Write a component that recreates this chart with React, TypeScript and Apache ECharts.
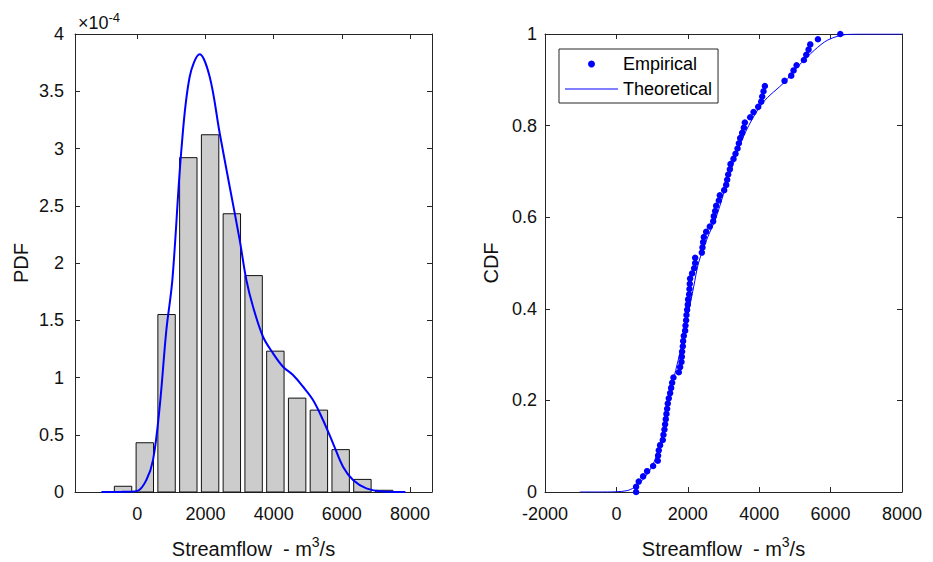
import React, { useEffect, useRef } from 'react';
import * as echarts from 'echarts';

// ---- Data (PDF values in units of 1e-4) ----
const binCenters = [-420, 218, 857, 1495, 2134, 2772, 3411, 4049, 4688, 5326, 5965, 6603, 7242];
const binHeights = [0.05, 0.43, 1.55, 2.92, 3.12, 2.43, 1.89, 1.23, 0.82, 0.715, 0.37, 0.11, 0.015];
const binSpacing = 638.5;
const barFraction = 0.8;

const pdfX = [-1055, -500, 0, 264, 460, 655, 851, 1027, 1291, 1535, 1829, 2122, 2416, 2709, 3003, 3198, 3394, 3687, 3981, 4274, 4567, 4860, 5154, 5447, 5741, 6034, 6328, 6719, 7208, 7864];
const pdfY = [0, 0.001, 0.01, 0.105, 0.28, 0.745, 1.415, 1.852, 2.987, 3.627, 3.823, 3.627, 3.133, 2.666, 2.2, 1.852, 1.618, 1.356, 1.211, 1.094, 1.022, 0.92, 0.803, 0.629, 0.425, 0.221, 0.105, 0.032, 0.005, 0];

const empiricalX = [
  551, 551, 626, 748, 860, 1028, 1159, 1168, 1187, 1224, 1299, 1318, 1346, 1364, 1383, 1402, 1421, 1439, 1467, 1505,
  1533, 1561, 1598, 1748, 1785, 1822, 1832, 1841, 1860, 1869, 1888, 1925, 1935, 1953, 1963, 1981, 2000, 2009, 2037, 2047,
  2056, 2065, 2121, 2178, 2206, 2206, 2393, 2411, 2430, 2449, 2514, 2617, 2710, 2729, 2766, 2794, 2869, 2897, 3019, 3075,
  3103, 3131, 3178, 3196, 3280, 3336, 3393, 3430, 3467, 3523, 3570, 3598, 3748, 3841, 3972, 4056, 4084, 4121, 4159, 4710,
  4897, 4963, 5047, 5252, 5318, 5383, 5430, 5645, 6271,
];

const cdfX = [-1028, -500, 0, 300, 500, 740, 1000, 1206, 1393, 1598, 1860, 2000, 2170, 2300, 2550, 2794, 3200, 3598, 4100, 4710, 5084, 5551, 5925, 6440, 7000, 8000];
const cdfY = [0, 0, 0.0005, 0.003, 0.01, 0.027, 0.056, 0.1, 0.172, 0.245, 0.33, 0.385, 0.45, 0.5, 0.555, 0.6, 0.7, 0.783, 0.85, 0.895, 0.929, 0.965, 0.987, 0.999, 1, 1];

const pdfXLimits = [-1830, 8645];
const pdfYTicks = { min: 0, max: 4, interval: 0.5 };
const cdfXTicks = { min: -2000, max: 8000, interval: 2000 };
const cdfYTicks = { min: 0, max: 1, interval: 0.2 };

const xTitle = 'Streamflow  - m{sup|3}/s';
const pdfTitle = 'PDF';
const cdfTitle = 'CDF';
const exponentLabel = '×10{sup|-4}';
const legendNames = ['Empirical', 'Theoretical'];

const FONT = '"Liberation Sans", Arial, Helvetica, sans-serif';
const AX = '#262626';
const TXT = '#111';

export default function App() {
  const ref = useRef<HTMLDivElement>(null);
  useEffect(() => {
    if (!ref.current) return;
    const chart = echarts.init(ref.current, undefined, { renderer: 'svg' });

    const axisBase = (extra: any) => ({
      type: 'value',
      axisLine: { show: true, onZero: false, lineStyle: { color: AX, width: 1 } },
      axisTick: { show: true, inside: true, length: 5, lineStyle: { color: AX } },
      splitLine: { show: false },
      ...extra,
    });
    const labelStyle = { color: TXT, fontSize: 18, fontFamily: FONT };
    const fmt = (v: number) => String(Math.round(v * 1000) / 1000);

    const halfW = (binSpacing * barFraction) / 2;

    const option: any = {
      animation: false,
      grid: [
        { left: 75, top: 34, width: 357, height: 458 },
        { left: 545, top: 34, width: 357, height: 458 },
      ],
      xAxis: [
        axisBase({ gridIndex: 0, position: 'bottom', min: pdfXLimits[0], max: pdfXLimits[1], splitNumber: 5,
          axisLabel: { ...labelStyle, margin: 13, formatter: fmt, showMinLabel: false, showMaxLabel: false } }),
        axisBase({ gridIndex: 0, position: 'top', min: pdfXLimits[0], max: pdfXLimits[1], splitNumber: 5,
          axisLabel: { show: false } }),
        axisBase({ gridIndex: 1, position: 'bottom', ...cdfXTicks,
          axisLabel: { ...labelStyle, margin: 13, formatter: fmt } }),
        axisBase({ gridIndex: 1, position: 'top', ...cdfXTicks, axisLabel: { show: false } }),
      ],
      yAxis: [
        axisBase({ gridIndex: 0, position: 'left', ...pdfYTicks, axisLabel: { ...labelStyle, margin: 11, formatter: fmt } }),
        axisBase({ gridIndex: 0, position: 'right', ...pdfYTicks, axisLabel: { show: false } }),
        axisBase({ gridIndex: 1, position: 'left', ...cdfYTicks, axisLabel: { ...labelStyle, margin: 8, formatter: fmt } }),
        axisBase({ gridIndex: 1, position: 'right', ...cdfYTicks, axisLabel: { show: false } }),
      ],
      legend: {
        left: 559, top: 49, orient: 'vertical',
        padding: [6, 6, 5, 6], itemGap: 7, itemWidth: 53, itemHeight: 7,
        backgroundColor: '#fff', borderColor: AX, borderWidth: 1,
        textStyle: { fontSize: 18, fontFamily: FONT, color: '#000' },
        data: [
          { name: legendNames[0], icon: 'circle', itemStyle: { color: '#0000ff', opacity: 1 } },
          { name: legendNames[1], icon: 'path://M0,0 H53 V1 H0 Z', itemStyle: { color: '#0000ff', opacity: 1 } },
        ],
      },
      series: [
        {
          type: 'custom', xAxisIndex: 0, yAxisIndex: 0,
          data: binCenters.map((c, i) => [c, binHeights[i]]),
          renderItem: (params: any, api: any) => {
            const c = api.value(0);
            const h = api.value(1);
            const p0 = api.coord([c - halfW, h]);
            const p1 = api.coord([c + halfW, 0]);
            return {
              type: 'rect',
              shape: { x: p0[0], y: p0[1], width: p1[0] - p0[0], height: p1[1] - p0[1] },
              style: { fill: '#cccccc', stroke: '#111', lineWidth: 1 },
            };
          },
          z: 1,
        },
        {
          type: 'line', xAxisIndex: 0, yAxisIndex: 0,
          data: pdfX.map((x, i) => [x, pdfY[i]]),
          smooth: 0.35, symbol: 'none',
          lineStyle: { color: '#0000ff', width: 2 },
          z: 3,
        },
        {
          type: 'scatter', name: legendNames[0], xAxisIndex: 2, yAxisIndex: 2,
          data: empiricalX.map((x, i) => [x, i / (empiricalX.length - 1)]),
          symbol: 'circle', symbolSize: 6.5,
          itemStyle: { color: '#0000ff', opacity: 1 },
          z: 2,
        },
        {
          type: 'line', name: legendNames[1], xAxisIndex: 2, yAxisIndex: 2,
          data: cdfX.map((x, i) => [x, cdfY[i]]),
          smooth: 0.3, symbol: 'none', showSymbol: false,
          lineStyle: { color: '#0000ff', width: 1 },
          itemStyle: { color: '#0000ff' },
          z: 3,
        },
      ],
      graphic: [
        {
          type: 'text', x: 78, y: 23,
          style: {
            text: exponentLabel, fontSize: 18, fontFamily: FONT, fill: TXT,
            verticalAlign: 'middle',
            rich: { sup: { fontSize: 13, fontFamily: FONT, fill: TXT, padding: [0, 0, 12, 0] } },
          },
        },
        {
          type: 'text', x: 20.5, y: 263, rotation: Math.PI / 2,
          style: { text: pdfTitle, fontSize: 20, fontFamily: FONT, fill: TXT, align: 'center', verticalAlign: 'middle' },
        },
        {
          type: 'text', x: 490.5, y: 263, rotation: Math.PI / 2,
          style: { text: cdfTitle, fontSize: 20, fontFamily: FONT, fill: TXT, align: 'center', verticalAlign: 'middle' },
        },
        ...[253.5, 723.5].map((cx) => ({
          type: 'text', x: cx, y: 549,
          style: {
            text: xTitle, fontSize: 20, fontFamily: FONT, fill: TXT, align: 'center', verticalAlign: 'middle',
            rich: { sup: { fontSize: 14, fontFamily: FONT, fill: TXT, padding: [0, 0, 14, 0] } },
          },
        })),
      ],
    };
    chart.setOption(option);
    return () => chart.dispose();
  }, []);
  return <div ref={ref} style={{ position: 'fixed', left: 0, top: 0, width: 933, height: 562, background: '#fff' }} />;
}
